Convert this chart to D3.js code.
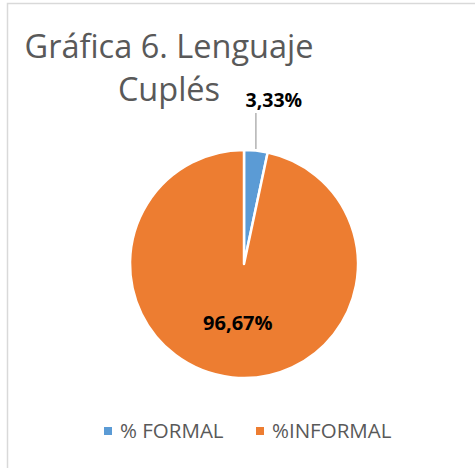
<!DOCTYPE html>
<html>
<head>
<meta charset="utf-8">
<script src="https://cdn.jsdelivr.net/npm/d3@7"></script>
<style>
	body { margin: 0; background: #fff; }
	text { font-family: "Open Sans", "Noto Sans", sans-serif; }
</style>
</head>
<body>
<div id="chart"></div>
<script>
// chart data
var categories = ["% FORMAL", "%INFORMAL"];
var values = [3.33, 96.67];
var labels = ["3,33%", "96,67%"];
var colors = ["#5B9BD5", "#ED7D31"];
var titleLines = ["Gráfica 6. Lenguaje", "Cuplés"];

var width = 475,
	height = 468;

var cx = 244,
	cy = 264,
	r = 114;

var svg = d3.select("#chart").append("svg")
	.attr("width", width)
	.attr("height", height);

// outer frame (only top and left visible in the picture)
svg.append("rect")
	.attr("x", 7.5)
	.attr("y", 3.5)
	.attr("width", width + 10)
	.attr("height", height + 10)
	.attr("fill", "#fff")
	.attr("stroke", "#d9d9d9")
	.attr("stroke-width", 1.5);

// title
var title = svg.append("text")
	.attr("text-anchor", "middle")
	.attr("fill", "#595959")
	.attr("font-size", 32.5);

title.selectAll("tspan")
	.data(titleLines)
	.enter()
	.append("tspan")
	.attr("x", 169)
	.attr("y", (d, i) => 58 + i * 43)
	.text(d => d);

var pie = d3.pie().sort(null).value(d => d);
var arcs = pie(values);

var arc = d3.arc().innerRadius(0).outerRadius(r);
var inner = d3.arc().innerRadius(r * 0.52).outerRadius(r * 0.52);

var g = svg.append("g")
	.attr("transform", "translate(" + cx + "," + cy + ")");

g.selectAll("path")
	.data(arcs)
	.enter()
	.append("path")
	.attr("d", arc)
	.attr("fill", (d, i) => colors[i])
	.attr("stroke", "#fff")
	.attr("stroke-width", 2.5)
	.attr("stroke-linejoin", "round");

// label of the small slice sits outside with a leader line
var small = arcs[0];
var mid = (small.startAngle + small.endAngle) / 2;
var lx = Math.sin(mid) * r;

g.append("line")
	.attr("x1", lx)
	.attr("x2", lx)
	.attr("y1", -r - 1)
	.attr("y2", -r - 37)
	.attr("stroke", "#a6a6a6")
	.attr("stroke-width", 1.3);

g.append("text")
	.attr("x", lx + 18)
	.attr("y", -r - 43)
	.attr("text-anchor", "middle")
	.attr("font-size", 19.5)
	.attr("font-weight", "bold")
	.attr("fill", "#000")
	.text(labels[0]);

// label of the big slice inside
var c = inner.centroid(arcs[1]);
g.append("text")
	.attr("x", c[0])
	.attr("y", c[1] + 7)
	.attr("text-anchor", "middle")
	.attr("font-size", 20)
	.attr("font-weight", "bold")
	.attr("fill", "#000")
	.text(labels[1]);

// legend
var legendX = [104, 256];
var legend = svg.selectAll(".legend")
	.data(categories)
	.enter()
	.append("g")
	.attr("class", "legend")
	.attr("transform", (d, i) => "translate(" + legendX[i] + ",431)");

legend.append("rect")
	.attr("x", 0)
	.attr("y", -4)
	.attr("width", 8)
	.attr("height", 8)
	.attr("fill", (d, i) => colors[i]);

legend.append("text")
	.attr("x", 16)
	.attr("y", 6.5)
	.attr("font-size", 20.5)
	.attr("fill", "#595959")
	.text(d => d);
</script>
</body>
</html>
